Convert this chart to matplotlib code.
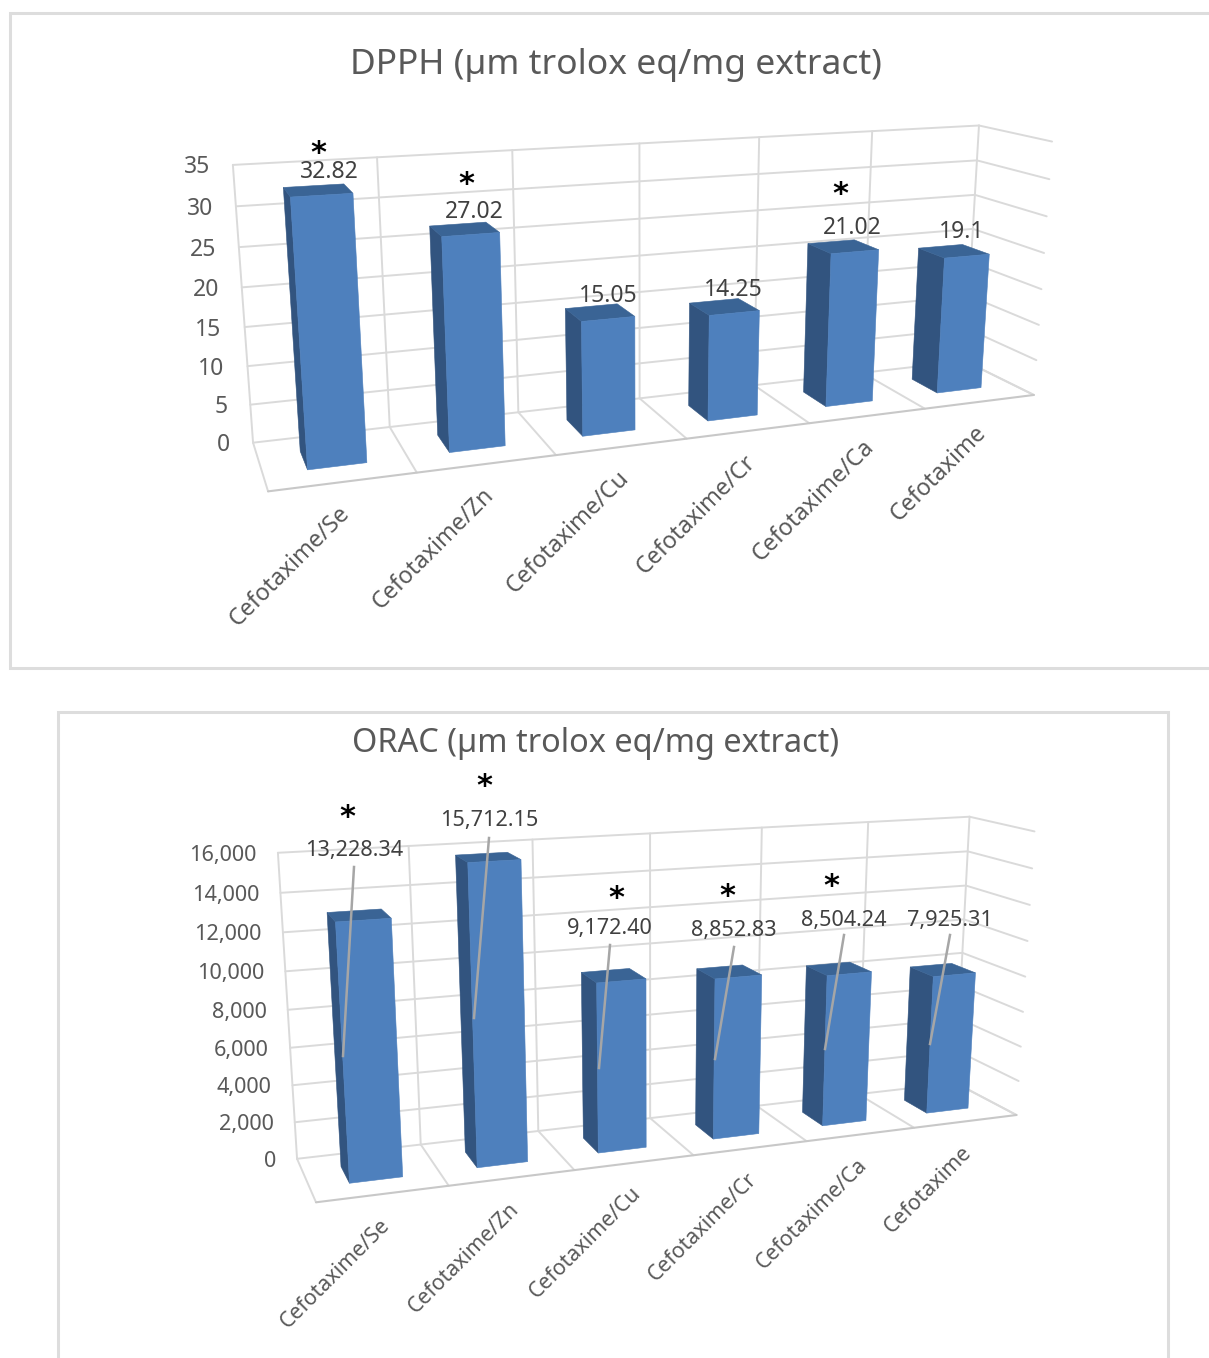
#!/usr/bin/env python3
# -*- coding: utf-8 -*-
import numpy as np
import matplotlib
matplotlib.use("Agg")
import matplotlib.pyplot as plt
from matplotlib.patches import Polygon

categories = ["Cefotaxime/Se", "Cefotaxime/Zn", "Cefotaxime/Cu",
              "Cefotaxime/Cr", "Cefotaxime/Ca", "Cefotaxime"]

dpph_values = [32.82, 27.02, 15.05, 14.25, 21.02, 19.1]
dpph_labels = ["32.82", "27.02", "15.05", "14.25", "21.02", "19.1"]
dpph_ticks = [0, 5, 10, 15, 20, 25, 30, 35]
dpph_tick_labels = ["0", "5", "10", "15", "20", "25", "30", "35"]

orac_values = [13228.34, 15712.15, 9172.40, 8852.83, 8504.24, 7925.31]
orac_labels = ["13,228.34", "15,712.15", "9,172.40", "8,852.83", "8,504.24", "7,925.31"]
orac_ticks = [0, 2000, 4000, 6000, 8000, 10000, 12000, 14000, 16000]
orac_tick_labels = ["0", "2,000", "4,000", "6,000", "8,000", "10,000", "12,000", "14,000", "16,000"]

FRONT = "#4E80BD"
SIDE = "#32547F"
TOP = "#3A6495"
GRID = "#DADADA"
EDGE = "#C8C8C8"
FONT = "Noto Sans"

W, H = 1209, 1358
fig = plt.figure(figsize=(W / 100, H / 100), dpi=100)
ax = fig.add_axes([0, 0, 1, 1])
ax.set_xlim(0, W)
ax.set_ylim(H, 0)
ax.axis("off")


def fit_camera(corners):
    # corners: (u, v, w) -> pixel, solved for a 3x4 perspective matrix
    A = []
    for (u, v, w), (px, py) in corners:
        A.append([u, v, w, 1, 0, 0, 0, 0, -px * u, -px * v, -px * w, -px])
        A.append([0, 0, 0, 0, u, v, w, 1, -py * u, -py * v, -py * w, -py])
    _, _, vt = np.linalg.svd(np.array(A, dtype=float))
    return vt[-1].reshape(3, 4)


def draw_chart(values, ticks, tick_labels, data_labels, box, label_pos, stars,
               leaders, title, title_xy, title_size, text_size, tick_gap, cat_size):
    vmax = ticks[-1]
    n = len(values)
    cam = fit_camera([
        ((0, 0, 0), box["back_bl"]), ((0, 1, 0), box["back_tl"]),
        ((1, 0, 0), box["back_br"]), ((1, 1, 0), box["back_tr"]),
        ((0, 0, 1), box["front_bl"]), ((1, 0, 1), box["front_br"]),
        ((1, 1, 1), box["front_tr"]),
    ])

    def proj(cat, val, depth):
        p = cam @ np.array([cat / n, val / vmax, depth, 1.0])
        return p[0] / p[2], p[1] / p[2]

    def seg(a, b, color=GRID, lw=1.4, z=1):
        ax.plot([a[0], b[0]], [a[1], b[1]], color=color, lw=lw, zorder=z,
                solid_capstyle="round")

    # walls and floor
    for t in ticks:
        seg(proj(0, t, 0), proj(n, t, 0))
        seg(proj(n, t, 0), proj(n, t, 1))
    for i in range(n + 1):
        seg(proj(i, 0, 0), proj(i, vmax, 0))
        seg(proj(i, 0, 0), proj(i, 0, 1))
    seg(proj(0, 0, 1), proj(n, 0, 1), color=EDGE, lw=1.5)

    # columns, back faces first
    d0, d1 = 0.30, 0.69
    for i, val in enumerate(values):
        a, b = i + 0.30, i + 0.71
        side = [proj(a, 0, d0), proj(a, val, d0), proj(a, val, d1), proj(a, 0, d1)]
        top = [proj(a, val, d0), proj(b, val, d0), proj(b, val, d1), proj(a, val, d1)]
        front = [proj(a, 0, d1), proj(a, val, d1), proj(b, val, d1), proj(b, 0, d1)]
        for pts, col in ((side, SIDE), (top, TOP), (front, FRONT)):
            ax.add_patch(Polygon(pts, closed=True, facecolor=col, edgecolor=col,
                                 lw=0.4, zorder=3))

    for t, lab in zip(ticks, tick_labels):
        x, y = proj(0, t, 0)
        ax.text(x - tick_gap, y + 2.5, lab, ha="right", va="center", color="#595959",
                fontsize=text_size, family=FONT, zorder=6)

    for i, lab in enumerate(categories):
        x, y = proj(i + 0.5, 0, 1)
        ax.text(x + 3, y + 28, lab, rotation=45, rotation_mode="anchor", ha="right",
                va="center", color="#595959", fontsize=cat_size, family=FONT, zorder=6)

    for lab, (x, y) in zip(data_labels, label_pos):
        ax.text(x, y + 2.5, lab, ha="center", va="center", color="#404040",
                fontsize=text_size, family=FONT, zorder=7)

    for (x0, y0), (x1, y1) in leaders:
        ax.plot([x0, x1], [y0, y1], color="#A6A6A6", lw=1.8, zorder=5)

    for x, y in stars:
        ax.text(x, y + 15, "*", ha="center", va="baseline", color="black",
                fontsize=22, family="DejaVu Sans", weight="bold", zorder=7)

    ax.text(title_xy[0], title_xy[1] + 2.5, title, ha="center", va="center", color="#595959",
            fontsize=title_size, family=FONT, zorder=7)


# chart frames
frame = dict(color="#DDDDDD", lw=2.2, zorder=0, solid_joinstyle="miter")
ax.plot([W + 5, 10, 10, W + 5], [13, 13, 668, 668], **frame)
ax.plot([58, 58, 1168, 1168], [H + 5, 712, 712, H + 5], **frame)

draw_chart(
    dpph_values, dpph_ticks, dpph_tick_labels, dpph_labels,
    box=dict(back_bl=(253, 442), back_tl=(233, 165), back_br=(966, 362), back_tr=(978, 125),
             front_bl=(268, 492), front_br=(1033, 394), front_tr=(1053, 142)),
    label_pos=[(329, 170), (474, 209), (608, 294), (733, 287), (852, 226), (962, 230)],
    stars=[(318, 147), (466, 178), (840, 188)],
    leaders=[],
    title="DPPH (µm trolox eq/mg extract)", title_xy=(616, 62), title_size=25.5,
    text_size=16.5, tick_gap=23, cat_size=16.8,
)

draw_chart(
    orac_values, orac_ticks, orac_tick_labels, orac_labels,
    box=dict(back_bl=(297, 1157), back_tl=(278, 853), back_br=(956, 1085), back_tr=(969, 816),
             front_bl=(316, 1204), front_br=(1016, 1113), front_tr=(1035, 832)),
    label_pos=[(354, 848), (489, 818), (610, 926), (734, 928), (844, 918), (950, 918)],
    stars=[(347, 811), (484, 780), (616, 892), (727, 890), (831, 880)],
    leaders=[((354, 867), (343, 1056)), ((489, 838), (474, 1018)), ((610, 945), (599, 1068)),
             ((734, 947), (715, 1059)), ((844, 935), (825, 1049)), ((950, 935), (930, 1044))],
    title="ORAC (µm trolox eq/mg extract)", title_xy=(596, 741), title_size=23.4,
    text_size=15.6, tick_gap=21, cat_size=15.3,
)

fig.savefig("out.png", dpi=100, facecolor="white")
